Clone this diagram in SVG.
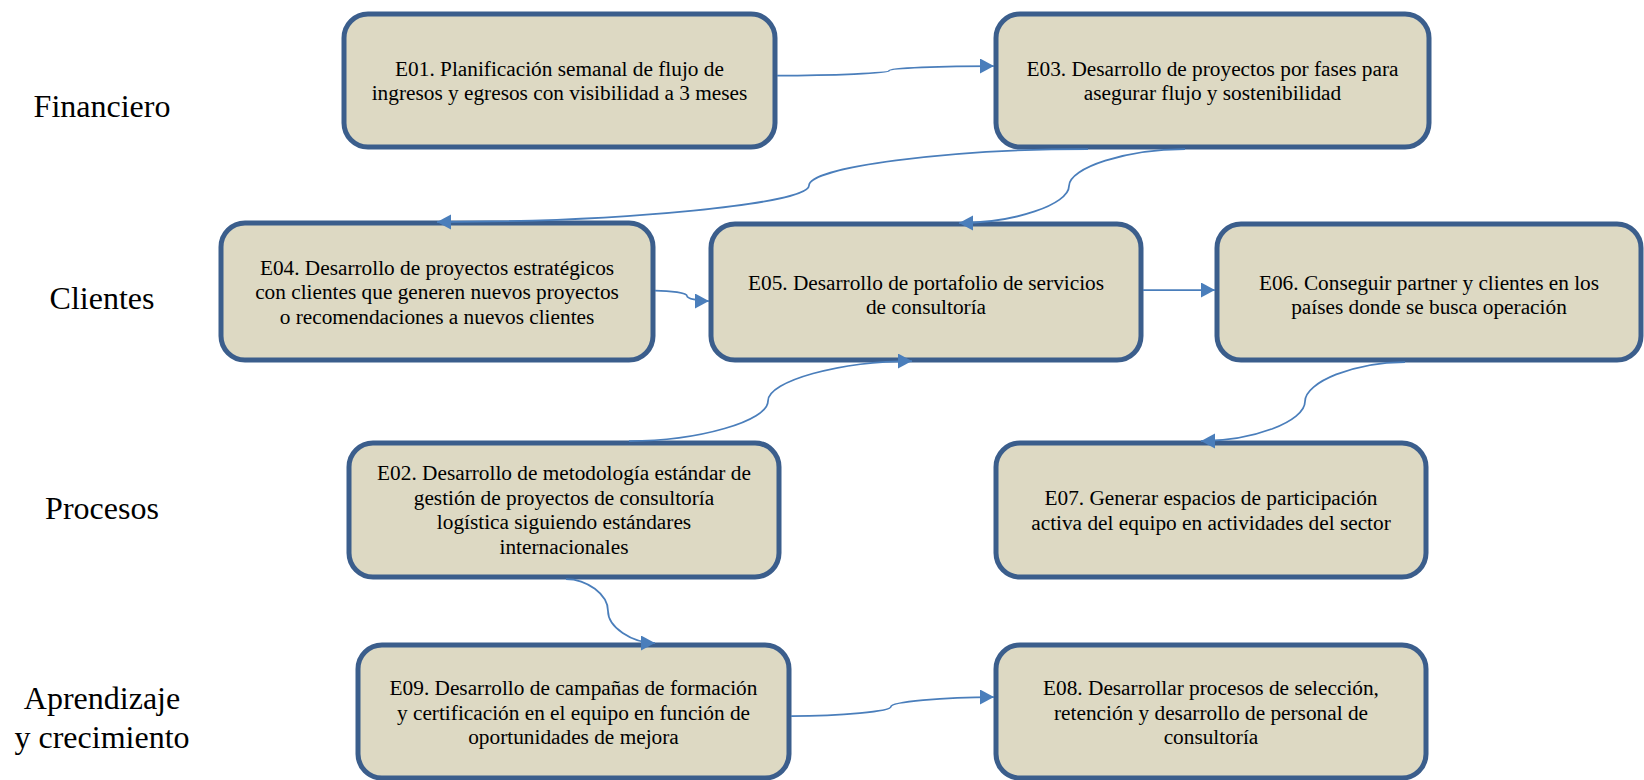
<svg xmlns="http://www.w3.org/2000/svg" width="1644" height="780" viewBox="0 0 1644 780">
<style>
.box{fill:#DDD9C3;stroke:#3B5E8C;stroke-width:5}
.t{font-family:"Liberation Serif","Times New Roman",serif;font-size:21.3px;fill:#000;text-anchor:middle}
.lbl{font-family:"Liberation Serif","Times New Roman",serif;font-size:32px;fill:#000;text-anchor:middle}
.c{fill:none;stroke:#4A7EBB;stroke-width:1.75;marker-end:url(#arr)}
</style>
<defs>
<marker id="arr" markerUnits="userSpaceOnUse" markerWidth="16" markerHeight="16" refX="14" refY="7.5" orient="auto">
<path d="M0,0 L14,7.5 L0,15 z" fill="#4A7EBB"/>
</marker>
</defs>
<rect width="1644" height="780" fill="#fff"/>
<g id="labels">
<text class="lbl" x="102" y="117">Financiero</text>
<text class="lbl" x="102" y="309">Clientes</text>
<text class="lbl" x="102" y="519">Procesos</text>
<text class="lbl" x="102" y="709">Aprendizaje</text>
<text class="lbl" x="102" y="748">y crecimiento</text>
</g>
<g id="E01">
<rect class="box" x="344" y="14" width="431" height="133" rx="24"/>
<text class="t" x="559.5" y="75.5">E01. Planificación semanal de flujo de</text>
<text class="t" x="559.5" y="99.5">ingresos y egresos con visibilidad a 3 meses</text>
</g>
<g id="E03">
<rect class="box" x="996" y="14" width="433" height="133" rx="24"/>
<text class="t" x="1212.5" y="76">E03. Desarrollo de proyectos por fases para</text>
<text class="t" x="1212.5" y="100">asegurar flujo y sostenibilidad</text>
</g>
<g id="E04">
<rect class="box" x="221" y="223" width="432" height="137" rx="24"/>
<text class="t" x="437" y="274.5">E04. Desarrollo de proyectos estratégicos</text>
<text class="t" x="437" y="299">con clientes que generen nuevos proyectos</text>
<text class="t" x="437" y="323.5">o recomendaciones a nuevos clientes</text>
</g>
<g id="E05">
<rect class="box" x="711" y="224" width="430" height="136" rx="24"/>
<text class="t" x="926" y="289.5">E05. Desarrollo de portafolio de servicios</text>
<text class="t" x="926" y="313.5">de consultoría</text>
</g>
<g id="E06">
<rect class="box" x="1217" y="224" width="424" height="136" rx="24"/>
<text class="t" x="1429" y="289.5">E06. Conseguir partner y clientes en los</text>
<text class="t" x="1429" y="313.5">países donde se busca operación</text>
</g>
<g id="E02">
<rect class="box" x="349" y="443" width="430" height="134" rx="24"/>
<text class="t" x="564" y="480">E02. Desarrollo de metodología estándar de</text>
<text class="t" x="564" y="504.5">gestión de proyectos de consultoría</text>
<text class="t" x="564" y="529">logística siguiendo estándares</text>
<text class="t" x="564" y="553.5">internacionales</text>
</g>
<g id="E07">
<rect class="box" x="996" y="443" width="430" height="134" rx="24"/>
<text class="t" x="1211" y="505">E07. Generar espacios de participación</text>
<text class="t" x="1211" y="530">activa del equipo en actividades del sector</text>
</g>
<g id="E09">
<rect class="box" x="358" y="645" width="431" height="133" rx="24"/>
<text class="t" x="573.5" y="695">E09. Desarrollo de campañas de formación</text>
<text class="t" x="573.5" y="719.5">y certificación en el equipo en función de</text>
<text class="t" x="573.5" y="744">oportunidades de mejora</text>
</g>
<g id="E08">
<rect class="box" x="996" y="645" width="430" height="133" rx="24"/>
<text class="t" x="1211" y="695">E08. Desarrollar procesos de selección,</text>
<text class="t" x="1211" y="719.5">retención y desarrollo de personal de</text>
<text class="t" x="1211" y="744">consultoría</text>
</g>
<g id="connectors">
<path class="c" d="M777,75.5 C833,75.5 889,73.1 889,70.75 C889,68.4 941.5,66 994,66"/>
<path class="c" d="M1088,149 C948.5,149 809,167.25 809,185.5 C809,203.75 624.5,222 437,222"/>
<path class="c" d="M1185,149 C1127,149 1069,167.5 1069,186 C1069,204.5 1014,223 959,223"/>
<path class="c" d="M655,290.5 C671,290.5 687,293 687,296 C687,298.5 698,301 709,301"/>
<path class="c" d="M1143,290 L1215,290"/>
<path class="c" d="M629,441 C698.5,441 768,421 768,401 C768,381 840,361 912,361"/>
<path class="c" d="M1405,362 C1355,362 1305,382 1305,401.5 C1305,421.5 1253,441 1201,441"/>
<path class="c" d="M566,579 C587,579 608,594.5 608,611 C608,627 631.5,643 655,643"/>
<path class="c" d="M791,716 C841,716 891,711.5 891,706.5 C891,702 942.5,697 994,697"/>
</g>
</svg>
